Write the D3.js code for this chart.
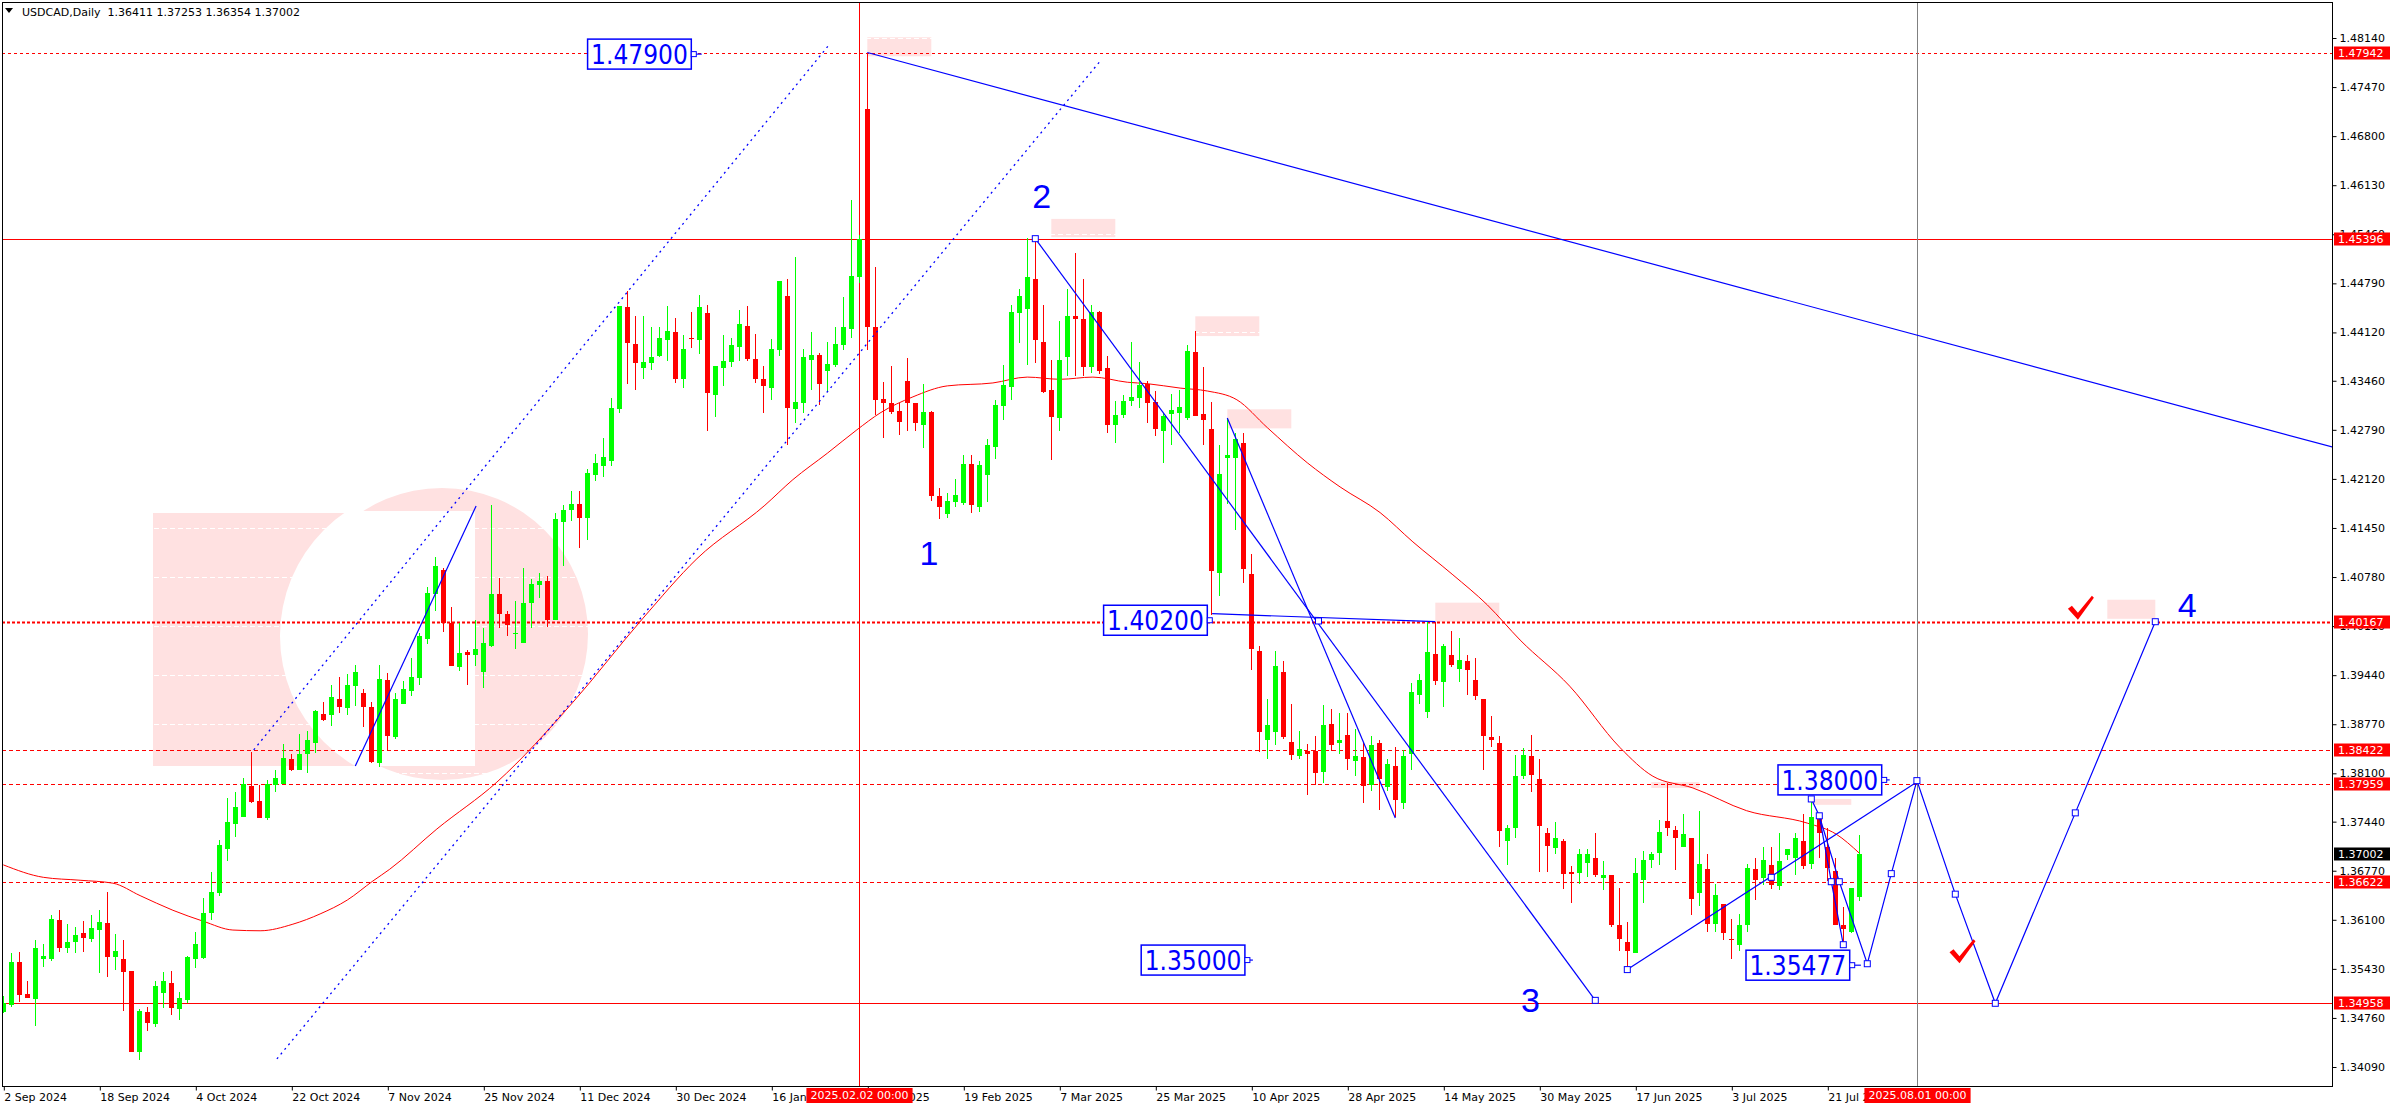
<!DOCTYPE html>
<html><head><meta charset="utf-8">
<script src="https://cdn.jsdelivr.net/npm/d3@7"></script>
<style>html,body{margin:0;padding:0;background:#fff;overflow:hidden;} svg{display:block;}</style>
</head><body>
<svg id="c" width="2396" height="1110"></svg>
<script>
// ---------- DATA ----------
const symbolTitle = "USDCAD,Daily";
const lastBar = [1.36411, 1.37253, 1.36354, 1.37002];
const opens = [
1.3484,1.3493,1.3552,1.3508,1.3502,1.3557,1.3557,1.3610,1.3572,1.3579,1.3592,1.3584,1.3596,1.3606,1.3559,1.3557,1.3540,1.3430,1.3484,1.3468,
1.3510,1.3524,1.3488,1.3501,1.3556,1.3558,1.3619,1.3647,1.3707,1.3741,1.3751,1.3793,1.3772,1.3749,1.3794,1.3796,1.3829,1.3814,1.3836,1.3852,
1.3891,1.3890,1.3912,1.3899,1.3929,1.3920,1.3901,1.3824,1.3938,1.3860,1.3905,1.3922,1.3940,1.3994,1.4055,1.4088,1.4015,1.3955,1.3976,1.3972,
1.3948,1.3984,1.4055,1.4028,1.4000,1.3988,1.4042,1.4067,1.4072,1.4019,1.4153,1.4170,1.4178,1.4158,1.4218,1.4230,1.4236,1.4308,1.4447,1.4396,
1.4363,1.4370,1.4380,1.4401,1.4413,1.4348,1.4405,1.4401,1.4438,1.4327,1.4364,1.4371,1.4392,1.4421,1.4376,1.4348,1.4336,1.4388,1.4462,1.4308,
1.4316,1.4374,1.4381,1.4359,1.4368,1.4395,1.4417,1.4487,1.4717,1.4420,1.4321,1.4316,1.4305,1.4346,1.4315,1.4286,1.4303,1.4188,1.4164,1.4180,
1.4179,1.4232,1.4174,1.4217,1.4256,1.4311,1.4338,1.4438,1.4444,1.4485,1.4399,1.4334,1.4295,1.4378,1.4435,1.4430,1.4365,1.4440,1.4364,1.4286,
1.4299,1.4318,1.4323,1.4341,1.4317,1.4278,1.4300,1.4302,1.4295,1.4385,1.4300,1.4280,1.4083,1.4240,1.4241,1.4261,1.4082,1.3977,1.3856,1.3867,
1.3949,1.3853,1.3833,1.3841,1.3840,1.3812,1.3877,1.3852,1.3862,1.3827,1.3832,1.3794,1.3852,1.3791,1.3820,1.3770,1.3836,1.3917,1.3894,1.3973,
1.3934,1.3972,1.3953,1.3964,1.3937,1.3912,1.3860,1.3852,1.3718,1.3735,1.3806,1.3833,1.3802,1.3729,1.3708,1.3718,1.3675,1.3674,1.3687,1.3695,
1.3667,1.3671,1.3603,1.3579,1.3565,1.3665,1.3691,1.3701,1.3745,1.3733,1.3710,1.3721,1.3647,1.3679,1.3604,1.3631,1.3584,1.3576,1.3603,1.3679,
1.3667,1.3685,1.3656,1.3699,1.3694,1.3717,1.3686,1.3747,1.3709,1.3677,1.3603,1.3594,1.36411];
const highs = [
1.3506,1.3564,1.3566,1.3526,1.3583,1.3577,1.3616,1.3624,1.3604,1.3600,1.3609,1.3616,1.3624,1.3648,1.3591,1.3583,1.3540,1.3488,1.3491,1.3527,
1.3539,1.3540,1.3511,1.3561,1.3593,1.3640,1.3675,1.3719,1.3776,1.3784,1.3804,1.3839,1.3794,1.3801,1.3815,1.3850,1.3837,1.3863,1.3868,1.3897,
1.3908,1.3930,1.3941,1.3945,1.3958,1.3925,1.3907,1.3958,1.3947,1.3919,1.3936,1.3967,1.4001,1.4065,1.4105,1.4090,1.4037,1.4015,1.3978,1.4020,
1.4008,1.4176,1.4077,1.4031,1.4045,1.4090,1.4075,1.4083,1.4079,1.4165,1.4176,1.4195,1.4195,1.4226,1.4246,1.4268,1.4323,1.4448,1.4468,1.4435,
1.4434,1.4419,1.4419,1.4448,1.4432,1.4408,1.4440,1.4463,1.4449,1.4366,1.4408,1.4405,1.4442,1.4448,1.4410,1.4366,1.4403,1.4482,1.4485,1.4515,
1.4390,1.4412,1.4384,1.4399,1.4419,1.4461,1.4593,1.4545,1.4794,1.4502,1.4344,1.4366,1.4316,1.4377,1.4315,1.4341,1.4305,1.4199,1.4193,1.4212,
1.4245,1.4245,1.4236,1.4266,1.4320,1.4368,1.4449,1.4471,1.4541,1.4541,1.4449,1.4375,1.4427,1.4471,1.4521,1.4485,1.4450,1.4441,1.4380,1.4318,
1.4327,1.4399,1.4372,1.4346,1.4332,1.4302,1.4328,1.4333,1.4395,1.4414,1.4365,1.4317,1.4258,1.4295,1.4275,1.4274,1.4109,1.3984,1.3911,1.3977,
1.3964,1.3905,1.3868,1.3850,1.3861,1.3903,1.3898,1.3892,1.3892,1.3871,1.3852,1.3861,1.3855,1.3829,1.3846,1.3842,1.3933,1.3945,1.4017,1.4017,
1.3987,1.4004,1.3995,1.3972,1.3968,1.3912,1.3888,1.3861,1.3740,1.3835,1.3844,1.3862,1.3829,1.3735,1.3743,1.3720,1.3684,1.3706,1.3707,1.3728,
1.3690,1.3671,1.3653,1.3607,1.3694,1.3704,1.3702,1.3746,1.3797,1.3738,1.3754,1.3721,1.3759,1.3700,1.3659,1.3631,1.3611,1.3618,1.3686,1.3694,
1.3710,1.3709,1.3729,1.3707,1.3728,1.3755,1.3771,1.3753,1.3735,1.3695,1.3628,1.3654,1.37253];
const lows = [
1.3483,1.3491,1.3498,1.3503,1.3465,1.3546,1.3554,1.3566,1.3564,1.3565,1.3566,1.3580,1.3538,1.3532,1.3542,1.3485,1.3430,1.3419,1.3458,1.3463,
1.3489,1.3480,1.3473,1.3497,1.3544,1.3557,1.3610,1.3643,1.3690,1.3723,1.3750,1.3769,1.3749,1.3746,1.3784,1.3795,1.3813,1.3814,1.3811,1.3838,
1.3882,1.3875,1.3893,1.3889,1.3902,1.3873,1.3824,1.3818,1.3841,1.3857,1.3905,1.3916,1.3930,1.3987,1.4032,1.4003,1.3956,1.3950,1.3930,1.3956,
1.3926,1.3982,1.4008,1.3997,1.3980,1.3988,1.4008,1.4050,1.4010,1.4019,1.4093,1.4154,1.4118,1.4129,1.4209,1.4215,1.4230,1.4302,1.4342,1.4334,
1.4348,1.4361,1.4378,1.4373,1.4343,1.4336,1.4391,1.4382,1.4278,1.4296,1.4339,1.4365,1.4373,1.4373,1.4343,1.4302,1.4320,1.4380,1.4258,1.4288,
1.4302,1.4333,1.4313,1.4330,1.4365,1.4388,1.4404,1.4480,1.4388,1.4299,1.4268,1.4300,1.4272,1.4278,1.4278,1.4254,1.4182,1.4157,1.4158,1.4174,
1.4176,1.4165,1.4167,1.4181,1.4239,1.4293,1.4320,1.4398,1.4368,1.4370,1.4329,1.4238,1.4278,1.4352,1.4352,1.4352,1.4357,1.4355,1.4274,1.4261,
1.4295,1.4311,1.4309,1.4288,1.4270,1.4234,1.4258,1.4275,1.4293,1.4298,1.4258,1.4026,1.4052,1.4178,1.4142,1.4070,1.3951,1.3839,1.3829,1.3849,
1.3857,1.3828,1.3830,1.3780,1.3794,1.3797,1.3840,1.3837,1.3815,1.3807,1.3770,1.3786,1.3760,1.3786,1.3751,1.3761,1.3814,1.3905,1.3886,1.3930,
1.3901,1.3955,1.3935,1.3917,1.3910,1.3814,1.3846,1.3709,1.3685,1.3721,1.3802,1.3784,1.3675,1.3675,1.3700,1.3652,1.3633,1.3659,1.3669,1.3668,
1.3650,1.3600,1.3567,1.3542,1.3565,1.3633,1.3681,1.3685,1.3725,1.3678,1.3709,1.3617,1.3629,1.3594,1.3593,1.3583,1.3556,1.3567,1.3593,1.3637,
1.3658,1.3652,1.3651,1.3691,1.3671,1.3680,1.3679,1.3695,1.3663,1.3603,1.3577,1.3592,1.36354];
const closes = [
1.3496,1.3552,1.3507,1.3503,1.3572,1.3560,1.3611,1.3572,1.3580,1.3589,1.3585,1.3599,1.3607,1.3559,1.3568,1.3539,1.3430,1.3486,1.3469,1.3520,
1.3526,1.3489,1.3503,1.3559,1.3577,1.3619,1.3648,1.3712,1.3743,1.3764,1.3796,1.3771,1.3749,1.3795,1.3803,1.3831,1.3814,1.3837,1.3855,1.3895,
1.3883,1.3914,1.3901,1.3930,1.3949,1.3901,1.3825,1.3939,1.3861,1.3912,1.3925,1.3942,1.3997,1.4056,1.4093,1.4015,1.3956,1.3974,1.3972,1.3980,
1.3988,1.4055,1.4028,1.4012,1.4002,1.4043,1.4069,1.4073,1.4019,1.4157,1.4170,1.4178,1.4158,1.4220,1.4234,1.4242,1.4309,1.4448,1.4397,1.4370,
1.4371,1.4378,1.4405,1.4414,1.4349,1.4389,1.4403,1.4447,1.4329,1.4366,1.4373,1.4395,1.4423,1.4376,1.4348,1.4339,1.4390,1.4482,1.4309,1.4317,
1.4378,1.4381,1.4342,1.4369,1.4396,1.4419,1.4489,1.4539,1.4420,1.4320,1.4316,1.4304,1.4290,1.4315,1.4288,1.4303,1.4188,1.4174,1.4182,1.4190,
1.4232,1.4176,1.4231,1.4258,1.4313,1.4340,1.4440,1.4462,1.4487,1.4401,1.4331,1.4296,1.4375,1.4435,1.4430,1.4365,1.4440,1.4360,1.4286,1.4299,
1.4318,1.4324,1.4340,1.4316,1.4280,1.4298,1.4306,1.4310,1.4387,1.4298,1.4293,1.4086,1.4219,1.4245,1.4267,1.4089,1.3980,1.3866,1.3876,1.3957,
1.3859,1.3835,1.3843,1.3837,1.3810,1.3876,1.3848,1.3855,1.3830,1.3833,1.3793,1.3849,1.3802,1.3823,1.3774,1.3834,1.3921,1.3938,1.3975,1.3936,
1.3984,1.3958,1.3965,1.3951,1.3916,1.3861,1.3856,1.3731,1.3736,1.3807,1.3835,1.3808,1.3738,1.3711,1.3721,1.3672,1.3672,1.3700,1.3700,1.3671,
1.3671,1.3603,1.3584,1.3568,1.3674,1.3691,1.3700,1.3730,1.3735,1.3721,1.3727,1.3638,1.3686,1.3604,1.3644,1.3592,1.3583,1.3603,1.3681,1.3665,
1.3691,1.3657,1.3690,1.3706,1.3721,1.3684,1.3751,1.3729,1.3681,1.3603,1.3598,1.3653,1.37002];

// moving average: bar index / value
const maBars = [0,5,9.6,13.7,17.1,21.2,25,28.7,32.1,36.2,39.6,43,46.2,48.3,54.2,61.7,71.2,79.9,86.7,95.2,98.7,103,106.7,109.6,113.7,118,123.7,128,132.1,136.2,140.5,143,147.1,150.5,154.2,158,163,167.1,172.1,176.2,181.2,185.5,189.6,195.8,202.1,206.2,211.2,217.9,225.5,229.1,232];
const maValues = [1.3685,1.3668,1.3664,1.3660,1.3643,1.3623,1.3608,1.3596,1.3595,1.3604,1.3618,1.3637,1.3663,1.3679,1.3734,1.3798,1.3907,1.4021,1.4103,1.4176,1.4211,1.4247,1.4279,1.4302,1.4324,1.4339,1.4343,1.4351,1.4348,1.4351,1.4344,1.4342,1.4336,1.4332,1.4320,1.4282,1.4234,1.4201,1.4166,1.4126,1.4081,1.4040,1.3992,1.3929,1.3845,1.3806,1.3790,1.3759,1.3742,1.3727,1.3701];

// axes
const yTickValues = [1.48140,1.47470,1.46800,1.46130,1.45460,1.44790,1.44120,1.43460,1.42790,1.42120,1.41450,1.40780,1.40110,1.39440,1.38770,1.38100,1.37440,1.36770,1.36100,1.35430,1.34760,1.34090];
const xTickBars = [0,12,24,36,48,60,72,84,96,108,120,132,144,156,168,180,192,204,216,228];
const xTickLabels = ["2 Sep 2024","18 Sep 2024","4 Oct 2024","22 Oct 2024","7 Nov 2024","25 Nov 2024","11 Dec 2024","30 Dec 2024","16 Jan 2025","3 Feb 2025","19 Feb 2025","7 Mar 2025","25 Mar 2025","10 Apr 2025","28 Apr 2025","14 May 2025","30 May 2025","17 Jun 2025","3 Jul 2025","21 Jul 2025"];

// horizontal price levels
const levelPrices = [1.47942, 1.45396, 1.40167, 1.38422, 1.37959, 1.36622, 1.34958];
const currentPrice = 1.37002;

// vertical time lines (bar position) and their labels
const vLineBars = [107, 239.2];
const vLineLabels = ["2025.02.02 00:00", "2025.08.01 00:00"];

// trend / wave lines (bar, price)
const channelUpper = [[31.3,1.3842],[103.1,1.4803]];
const channelLower = [[34.2,1.3420],[137,1.4781]];
const rallyLine = [[44,1.3820],[59.1,1.4175]];
const mainTrend = [[108,1.47942],[291.1,1.42556]];
const wave2to3 = [[129,1.4540],[199,1.3500]];
const secondDrop = [[153,1.4295],[174,1.3749]];
const level14020 = [[151.1,1.4028],[179,1.4017]];
const risingLine = [[203,1.3542],[239.2,1.3798]];
const recentSwing = [[226,1.3775],[227,1.3752],[228.5,1.3662],[230,1.3576]];
const forecastPath = [[227,1.3752],[229.5,1.3662],[233,1.3550],[236,1.3673],[239.2,1.3800],[244,1.3645],[249,1.3496],[259,1.3756],[269,1.4017]];
const markerPoints = [[129,1.4540],[199,1.3500],[203,1.3542],[221,1.3668],[164.4,1.4018],[226,1.3775],[227,1.3752],[228.5,1.3662],[229.5,1.3662],[230,1.3576],[233,1.3550],[236,1.3673],[239.2,1.3800],[244,1.3645],[249,1.3496],[259,1.3756],[269,1.4017]];

// price label boxes
const boxTexts = ["1.47900","1.40200","1.35000","1.38000","1.35477"];
const boxRightBars = [86.0,150.5,155.2,234.8,230.8];
const boxPrices = [1.4792,1.4019,1.3555,1.3801,1.3548];
const boxLinkBars = [87.3,151.1,156.2,235.8,232.2];

// wave numbers
const waveTexts = ["1","2","3","4"];
const waveBars = [115.7,129.8,190.9,273];
const wavePrices = [1.4111,1.4598,1.3500,1.4040];

// check marks
const checkBars = [259.7,244.9];
const checkPrices = [1.4036,1.3567];

// highlight boxes near swing highs [bar from, bar to, price top, price bottom]
const highlightBoxes = [[108,116,1.4815,1.4789],[131,139,1.4567,1.4542],[149,157,1.4434,1.4407],[153,161,1.4307,1.4281],[179,187,1.4043,1.4017],[263,269,1.4047,1.4021],[206,212,1.3798,1.3790],[226,231,1.3775,1.3767]];

// ---------- DRAW ----------
const W = 2396, H = 1110;
const L = 2, R = 2332, T = 2, B = 1086;
const x = d3.scaleLinear().domain([0, 291]).range([3.3, 3.3 + 8 * 291]);
const y = d3.scaleLinear().domain([1.4814, 1.3409]).range([38, 1067]);
const svg = d3.select('#c');
const BLUE = '#0000ff', RED = '#ff0000', GREEN = '#00ff00', PINK = '#ffe1e1';
const axisFont = "'DejaVu Sans', Verdana, sans-serif";

svg.append('rect').attr('width', W).attr('height', H).attr('fill', '#fff');
const defs = svg.append('defs');
defs.append('clipPath').attr('id', 'plotClip').append('rect').attr('x', L).attr('y', T).attr('width', R - L).attr('height', B - T);
defs.append('clipPath').attr('id', 'logoClip').append('rect').attr('x', 0).attr('y', 511).attr('width', 475).attr('height', 255);

const plot = svg.append('g').attr('clip-path', 'url(#plotClip)');

// watermark logo
const logo = plot.append('g');
logo.append('rect').attr('x', 153).attr('y', 513).attr('width', 322).attr('height', 253).attr('fill', PINK);
logo.append('circle').attr('cx', 442).attr('cy', 634).attr('r', 146).attr('fill', PINK);
logo.append('circle').attr('cx', 430).attr('cy', 636).attr('r', 150).attr('fill', '#fff').attr('clip-path', 'url(#logoClip)');

// highlight boxes
plot.append('g').selectAll('rect').data(highlightBoxes).join('rect')
  .attr('x', d => x(d[0])).attr('y', d => y(d[2]))
  .attr('width', d => x(d[1]) - x(d[0])).attr('height', d => y(d[3]) - y(d[2]))
  .attr('fill', PINK);

// white dashed grid (only visible over pink)
plot.append('g').selectAll('line').data(yTickValues).join('line')
  .attr('x1', L).attr('x2', R).attr('y1', d => Math.round(y(d)) + 0.5).attr('y2', d => Math.round(y(d)) + 0.5)
  .attr('stroke', '#fff').attr('stroke-dasharray', '5,3');

// horizontal levels
const levelStyles = [
  {w: 1, dash: '3,3'}, {w: 1, dash: null}, {w: 2, dash: '3,2'},
  {w: 1, dash: '4,3'}, {w: 1, dash: '4,3'}, {w: 1, dash: '4,3'}, {w: 1, dash: null}];
plot.append('g').selectAll('line').data(levelPrices).join('line')
  .attr('x1', L).attr('x2', R)
  .attr('y1', d => Math.round(y(d)) + 0.5).attr('y2', d => Math.round(y(d)) + 0.5)
  .attr('stroke', RED).attr('stroke-width', (d, i) => levelStyles[i].w)
  .attr('stroke-dasharray', (d, i) => levelStyles[i].dash);

// vertical lines
plot.append('line').attr('x1', Math.round(x(vLineBars[0])) + 0.5).attr('x2', Math.round(x(vLineBars[0])) + 0.5)
  .attr('y1', T).attr('y2', B).attr('stroke', RED);
plot.append('line').attr('x1', Math.round(x(vLineBars[1])) + 0.5).attr('x2', Math.round(x(vLineBars[1])) + 0.5)
  .attr('y1', T).attr('y2', B).attr('stroke', '#808080');

// moving average
const maLine = d3.line().x(d => x(d[0])).y(d => y(d[1])).curve(d3.curveMonotoneX);
plot.append('path').datum(maBars.map((b, i) => [b, maValues[i]]))
  .attr('d', maLine).attr('fill', 'none').attr('stroke', RED).attr('stroke-width', 1);

// candles
const barIdx = d3.range(opens.length);
const candles = plot.append('g').attr('shape-rendering', 'crispEdges');
const col = i => closes[i] >= opens[i] ? GREEN : RED;
candles.selectAll('line').data(barIdx).join('line')
  .attr('x1', i => Math.round(x(i)) + 0.5).attr('x2', i => Math.round(x(i)) + 0.5)
  .attr('y1', i => y(highs[i])).attr('y2', i => y(lows[i]))
  .attr('stroke', col);
candles.selectAll('rect').data(barIdx).join('rect')
  .attr('x', i => Math.round(x(i)) - 2).attr('width', 5)
  .attr('y', i => y(Math.max(opens[i], closes[i])))
  .attr('height', i => Math.max(1, y(Math.min(opens[i], closes[i])) - y(Math.max(opens[i], closes[i]))))
  .attr('fill', col);

// blue lines
const pl = d3.line().x(d => x(d[0])).y(d => y(d[1]));
const blue = plot.append('g').attr('fill', 'none').attr('stroke', BLUE);
[channelUpper, channelLower].forEach(p => blue.append('path').attr('d', pl(p)).attr('stroke-width', 1.3).attr('stroke-dasharray', '2,4'));
[rallyLine, mainTrend, wave2to3, secondDrop, level14020, risingLine, recentSwing, forecastPath]
  .forEach(p => blue.append('path').attr('d', pl(p)).attr('stroke-width', 1.2));

// markers
plot.append('g').selectAll('rect').data(markerPoints).join('rect')
  .attr('x', d => x(d[0]) - 3).attr('y', d => y(d[1]) - 3).attr('width', 6).attr('height', 6)
  .attr('fill', '#fff').attr('stroke', BLUE).attr('stroke-width', 1);

// price label boxes
const boxG = plot.append('g');
boxTexts.forEach((t, i) => {
  const g = boxG.append('g');
  const cy = y(boxPrices[i]);
  const xr = x(boxRightBars[i]);
  const txt = g.append('text').text(t)
    .attr('font-family', "'DejaVu Sans Condensed', 'DejaVu Sans', sans-serif").attr('font-stretch', 'condensed')
    .attr('font-size', 26).attr('fill', BLUE).attr('dominant-baseline', 'central');
  const tw = txt.node().getComputedTextLength();
  const bw = tw + 7;
  txt.attr('x', xr - bw + 3.5).attr('y', cy + 1);
  g.insert('rect', 'text').attr('x', xr - bw).attr('y', cy - 15).attr('width', bw).attr('height', 30)
    .attr('fill', '#fff').attr('stroke', BLUE).attr('stroke-width', 1.5);
  g.append('line').attr('x1', xr).attr('x2', x(boxLinkBars[i])).attr('y1', cy).attr('y2', cy).attr('stroke', BLUE).attr('stroke-width', 1.2);
  g.append('rect').attr('x', xr).attr('y', cy - 2.5).attr('width', 5).attr('height', 5).attr('fill', '#fff').attr('stroke', BLUE);
});

// wave numbers
plot.append('g').selectAll('text').data(waveTexts).join('text')
  .attr('x', (d, i) => x(waveBars[i])).attr('y', (d, i) => y(wavePrices[i]))
  .attr('text-anchor', 'middle').attr('dominant-baseline', 'central')
  .attr('font-family', "'Liberation Sans', Arial, sans-serif").attr('font-size', 34).attr('fill', BLUE)
  .text(d => d);

// check marks
plot.append('g').selectAll('path').data(checkBars).join('path')
  .attr('transform', (d, i) => `translate(${x(d)},${y(checkPrices[i])})`)
  .attr('d', 'M-13,1 L-9,-2 L-3,5 L11,-12 L13,-10 L-3,12 Z')
  .attr('fill', RED);

// frame
svg.append('rect').attr('x', L + 0.5).attr('y', T + 0.5).attr('width', R - L).attr('height', B - T)
  .attr('fill', 'none').attr('stroke', '#000').attr('stroke-width', 1).attr('shape-rendering', 'crispEdges');

// right axis
const yAxis = d3.axisRight(y).tickValues(yTickValues).tickFormat(d3.format('.5f')).tickSize(4).tickPadding(3);
const ya = svg.append('g').attr('transform', `translate(${R + 0.5},0)`).call(yAxis);
ya.select('.domain').remove();
ya.selectAll('text').attr('font-family', axisFont).attr('font-size', 11).attr('fill', '#000');
ya.selectAll('line').attr('stroke', '#000');

// bottom axis
const xAxis = d3.axisBottom(x).tickValues(xTickBars).tickFormat((d, i) => xTickLabels[i]).tickSize(4).tickPadding(2);
const xa = svg.append('g').attr('transform', `translate(0.5,${B + 0.5})`).call(xAxis);
xa.select('.domain').remove();
xa.selectAll('text').attr('font-family', axisFont).attr('font-size', 11).attr('fill', '#000')
  .attr('text-anchor', 'start').attr('dx', 0).attr('dy', '0.75em');
xa.selectAll('line').attr('stroke', '#000');

// right-side price tags
const tags = svg.append('g');
levelPrices.concat([currentPrice]).forEach((p, i) => {
  const cy = Math.round(y(p));
  const isCur = i === levelPrices.length;
  tags.append('rect').attr('x', R + 2).attr('y', cy - 6.5).attr('width', 56).attr('height', 13)
    .attr('fill', isCur ? '#000' : RED);
  tags.append('text').attr('x', R + 6).attr('y', cy).attr('dominant-baseline', 'central')
    .attr('font-family', axisFont).attr('font-size', 11).attr('fill', '#fff').text(d3.format('.5f')(p));
});

// bottom date tags for vertical lines
vLineBars.forEach((b, i) => {
  const cx = Math.round(x(b)) + 0.5;
  const g = svg.append('g');
  const t = g.append('text').attr('y', B + 9).attr('dominant-baseline', 'central')
    .attr('font-family', axisFont).attr('font-size', 11).attr('fill', '#fff').text(vLineLabels[i]);
  const tw = t.node().getComputedTextLength();
  t.attr('x', cx - tw / 2);
  g.insert('rect', 'text').attr('x', cx - tw / 2 - 4).attr('y', B + 2).attr('width', tw + 8).attr('height', 15).attr('fill', RED);
});

// header
const hdr = svg.append('g');
hdr.append('path').attr('d', 'M5,8 L13,8 L9,13 Z').attr('fill', '#000');
hdr.append('text').attr('x', 22).attr('y', 16).attr('font-family', axisFont).attr('font-size', 11).attr('fill', '#000')
  .attr('xml:space', 'preserve')
  .text(symbolTitle + '  ' + lastBar.map(d3.format('.5f')).join(' '));
</script>
</body></html>
